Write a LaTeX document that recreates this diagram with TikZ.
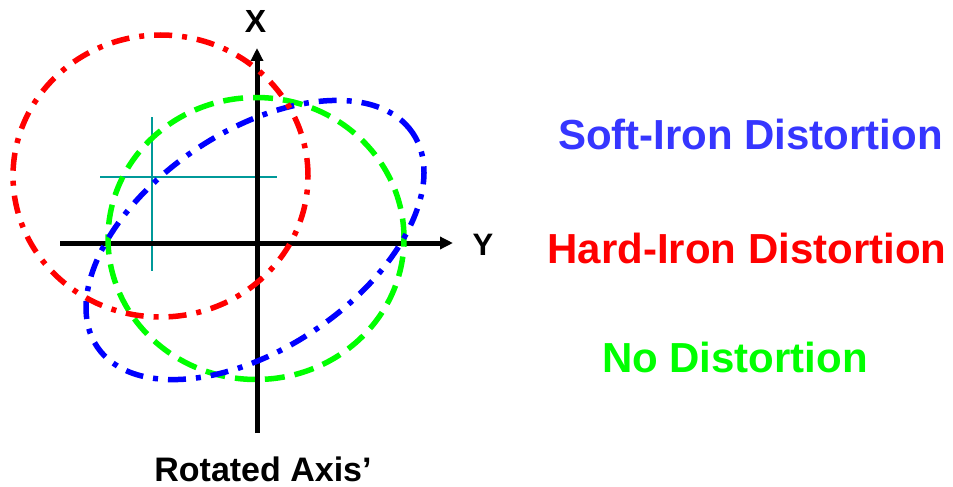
\documentclass[tikz,border=0pt]{standalone}
\usepackage{fontspec}
\setmainfont{Liberation Sans}
\usetikzlibrary{arrows.meta}
\definecolor{softblue}{HTML}{3636FF}
\definecolor{curveblue}{HTML}{0000FF}
\definecolor{hardred}{HTML}{FF0000}
\definecolor{nogreen}{HTML}{00FF00}
\definecolor{crossteal}{HTML}{009999}
\tikzset{
  axisline/.style = {line width = 5pt, -{Triangle[length = 13pt, width = 12pt]}},
  dashdotline/.style = {line width = 5.5pt, dash pattern = on 18pt off 10pt on 5pt off 10pt},
  dashline/.style = {line width = 5.5pt, dash pattern = on 20pt off 10pt},
  crossline/.style = {crossteal, line width = 1.8pt},
  bigtext/.style = {anchor = base, font = \fontsize{42}{50}\selectfont\bfseries},
}

\begin{document}
\begin{tikzpicture}[x = 1pt, y = -1pt]%
    \useasboundingbox (0, 0) rectangle (953, 487);

    % axes
    \coordinate (yneg) at (60, 243);
    \coordinate (ypos) at (453, 243);
    \coordinate (xneg) at (257, 433);
    \coordinate (xpos) at (257, 48);

    \coordinate (hcl) at (100, 177);
    \coordinate (hcr) at (277, 177);
    \coordinate (vct) at (152, 117);
    \coordinate (vcb) at (152, 271);
    \draw[crossline] (hcl) -- (hcr);
    \draw[crossline] (vct) -- (vcb);

    \draw[axisline] (yneg) -- (ypos);
    \draw[axisline] (xneg) -- (xpos);

    % the three curves
    \draw[nogreen, dashline] (256, 238.5) ellipse [x radius = 148pt, y radius = 141pt];
    \draw[curveblue, dashdotline, rotate around = {34.2:(255, 240)}] (255, 240) ellipse [x radius = 190.6pt, y radius = 108.2pt];
    \draw[hardred, dashdotline] (160.5, 176) ellipse [x radius = 147.5pt, y radius = 141pt];

    % labels
    \node[anchor = base, font = \fontsize{32}{38}\selectfont\bfseries] (xlabel) at (255.5, 33) {X};
    \node[anchor = base, font = \fontsize{31}{37}\selectfont\bfseries] (ylabel) at (483, 255) {Y};
    \node[anchor = base, inner sep = 0pt, font = \fontsize{34}{40}\selectfont\bfseries] (rotlabel) at (263, 481) {Rotated Axis’};

    \node[bigtext, text = softblue] (soft) at (750.5, 149) {Soft-Iron Distortion};
    \node[bigtext, text = hardred] (hard) at (747, 263) {Hard-Iron Distortion};
    \node[bigtext, text = nogreen] (nodist) at (735, 372) {No Distortion};
  \end{tikzpicture}
\end{document}
